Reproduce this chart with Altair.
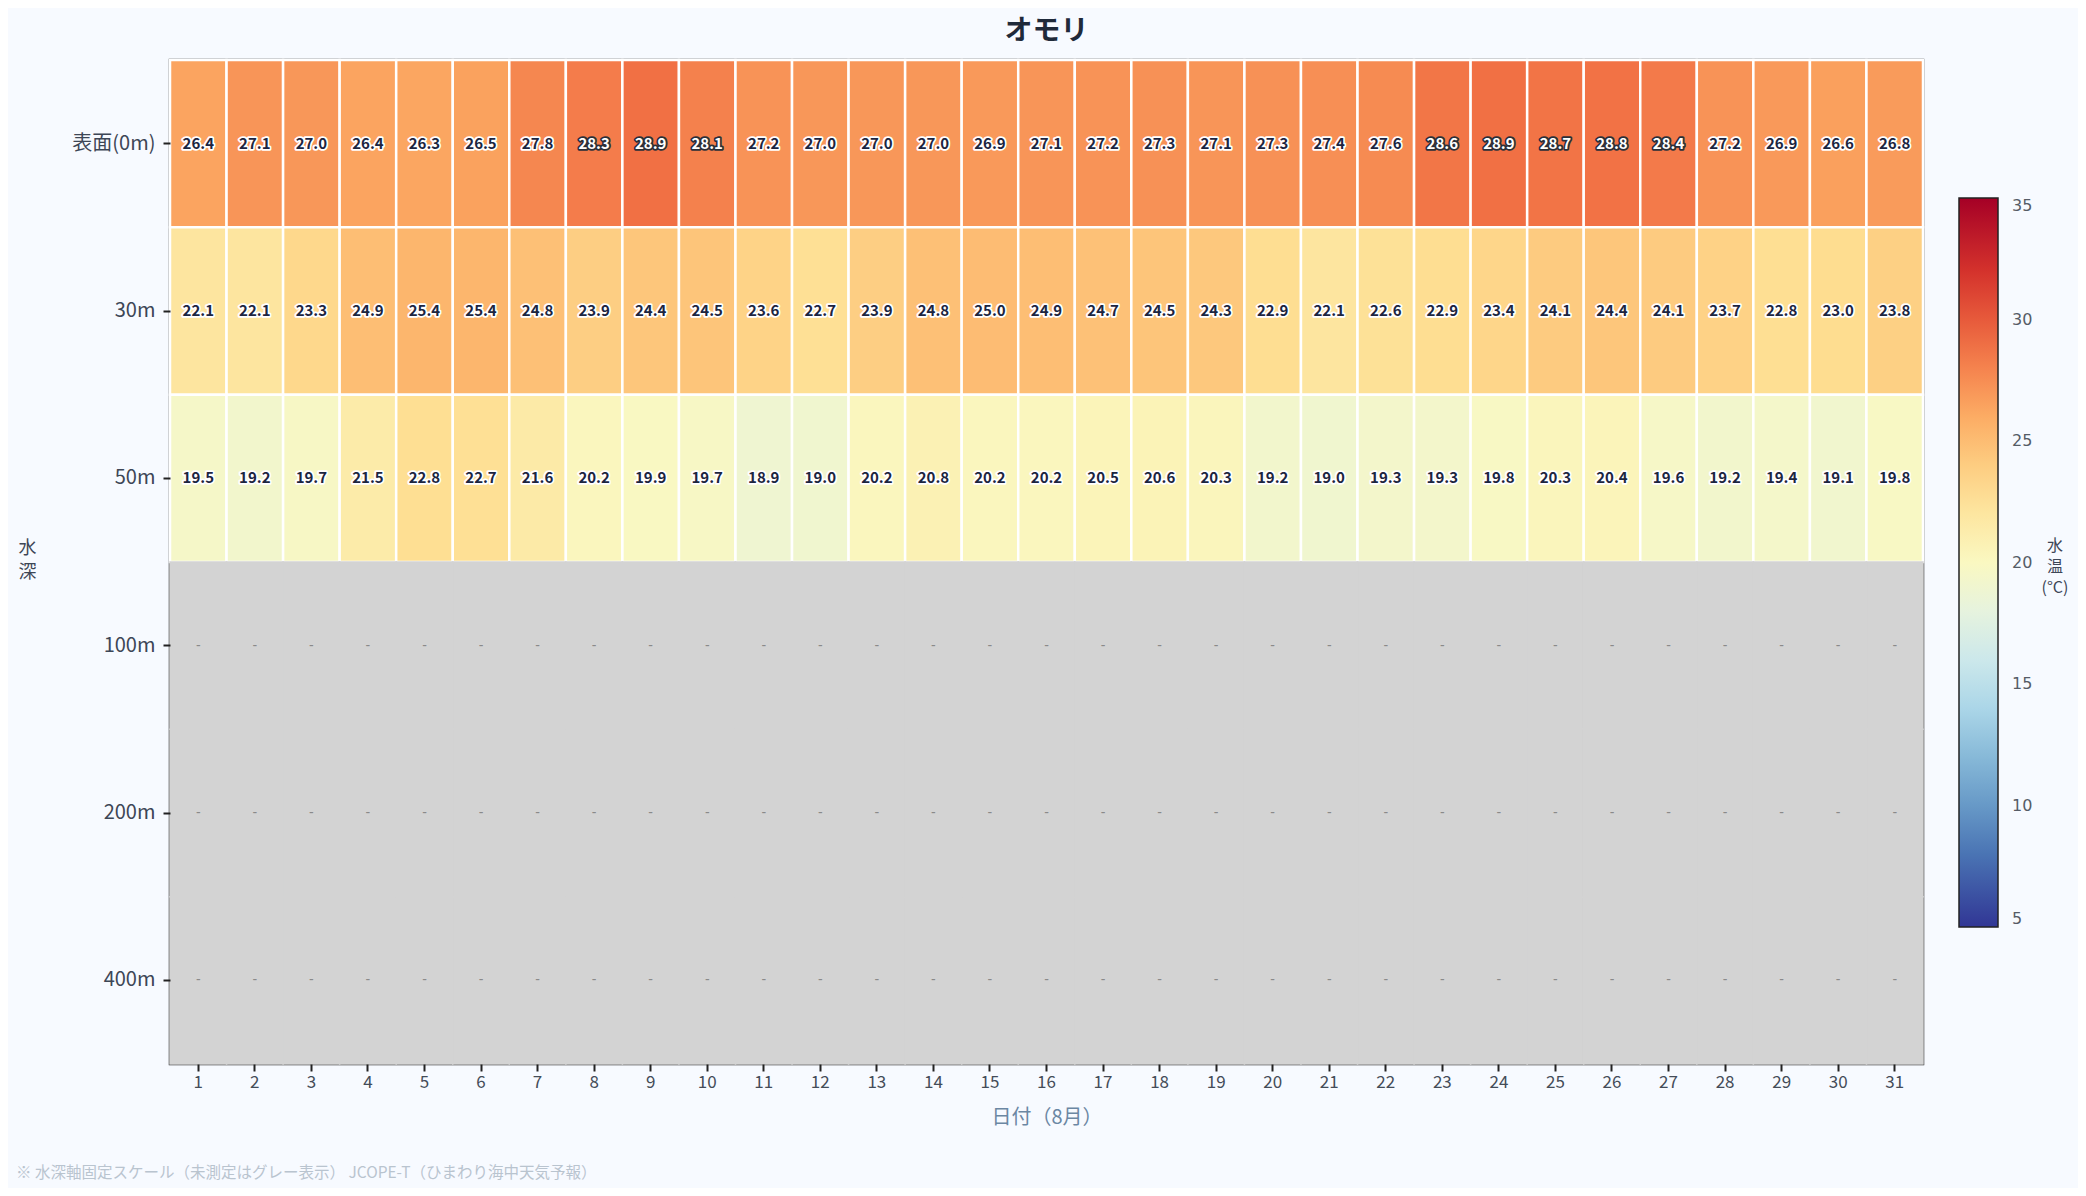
import altair as alt
import pandas as pd

# Data (Omori, August)
days = list(range(1, 32))
depths = ["表面(0m)", "30m", "50m", "100m", "200m", "400m"]
measured_depths = ["表面(0m)", "30m", "50m"]
missing_depths = ["100m", "200m", "400m"]

temp_0m = [26.4, 27.1, 27.0, 26.4, 26.3, 26.5, 27.8, 28.3, 28.9, 28.1, 27.2,
           27.0, 27.0, 27.0, 26.9, 27.1, 27.2, 27.3, 27.1, 27.3, 27.4, 27.6,
           28.6, 28.9, 28.7, 28.8, 28.4, 27.2, 26.9, 26.6, 26.8]
temp_30m = [22.1, 22.1, 23.3, 24.9, 25.4, 25.4, 24.8, 23.9, 24.4, 24.5, 23.6,
            22.7, 23.9, 24.8, 25.0, 24.9, 24.7, 24.5, 24.3, 22.9, 22.1, 22.6,
            22.9, 23.4, 24.1, 24.4, 24.1, 23.7, 22.8, 23.0, 23.8]
temp_50m = [19.5, 19.2, 19.7, 21.5, 22.8, 22.7, 21.6, 20.2, 19.9, 19.7, 18.9,
            19.0, 20.2, 20.8, 20.2, 20.2, 20.5, 20.6, 20.3, 19.2, 19.0, 19.3,
            19.3, 19.8, 20.3, 20.4, 19.6, 19.2, 19.4, 19.1, 19.8]

note = "※ 水深軸固定スケール（未測定はグレー表示） JCOPE-T（ひまわり海中天気予報）"
legend_title = "水\n温\n(°C)"

# long tables
rows = []
for depth, series in zip(measured_depths, [temp_0m, temp_30m, temp_50m]):
    for d, t in zip(days, series):
        rows.append({"day": d, "depth": depth, "temp": t, "label": f"{t:.1f}"})
df = pd.DataFrame(rows)

missing = pd.DataFrame([{"day": d, "depth": dep, "label": "-"}
                        for dep in missing_depths for d in days])

JP = "Noto Sans CJK JP"
DARK = "#1c2540"
GRAY = "#d3d3d3"

x_enc = alt.X("day:O", title="日付（8月）",
              axis=alt.Axis(labelAngle=0, labelFont=JP, labelFontSize=17,
                            labelColor="#444c58", tickColor="#222", tickSize=7,
                            tickWidth=2, domain=False, labelPadding=3,
                            titleFont=JP, titleFontSize=20, titleFontWeight="normal",
                            titleColor="#6b87a3", titlePadding=17))
y_enc = alt.Y("depth:N", sort=depths, scale=alt.Scale(domain=depths),
              title=["水", "深"],
              axis=alt.Axis(labelFont=JP, labelFontSize=20, labelColor="#3d4656",
                            tickColor="#222", tickSize=7, tickWidth=2, domain=False,
                            labelPadding=8, titleAngle=0, titleFont=JP,
                            titleFontSize=18, titleFontWeight="normal",
                            titleColor="#3d4656", titleX=-143, titleY=488,
                            titleAlign="center", titleBaseline="middle",
                            titleLineHeight=24))

base = alt.Chart(df).encode(x=x_enc, y=y_enc)

cells = base.mark_rect(stroke="white", strokeWidth=2.5).encode(
    color=alt.Color("temp:Q",
                    scale=alt.Scale(scheme="redyellowblue", reverse=True, domain=[5, 35]),
                    legend=alt.Legend(title=None, orient="none",
                                      legendX=1789, legendY=138,
                                      gradientLength=729, gradientThickness=39,
                                      gradientStrokeColor="#222", gradientStrokeWidth=1.5,
                                      values=[5, 10, 15, 20, 25, 30, 35],
                                      labelFontSize=16, labelColor="#555c66",
                                      labelFont="DejaVu Sans", labelOffset=14))
)

is_hot = alt.datum.temp >= 28

halo = base.mark_text(font=JP, fontSize=15, fontWeight="bold",
                      strokeWidth=3.5, strokeJoin="round").encode(
    text="label:N",
    stroke=alt.condition(is_hot, alt.value("#2b2f38"), alt.value("white")),
    color=alt.condition(is_hot, alt.value("#2b2f38"), alt.value("white")),
)
labels = base.mark_text(font=JP, fontSize=15, fontWeight="bold").encode(
    text="label:N",
    color=alt.condition(is_hot, alt.value("white"), alt.value(DARK)),
)

gray = alt.Chart(missing).mark_rect(color=GRAY, stroke=GRAY, strokeWidth=1.5).encode(
    x=x_enc, y=y_enc)
dashes = alt.Chart(missing).mark_text(color="#8a8a8a", fontSize=14).encode(
    x=x_enc, y=y_enc, text="label:N")

footnote = alt.Chart(pd.DataFrame({"t": [note]})).mark_text(
    align="left", baseline="middle", font=JP, fontSize=15.5, color="#b9c4cf"
).encode(x=alt.value(-154), y=alt.value(1113), text="t:N")

legend_label = alt.Chart(pd.DataFrame({"t": [legend_title]})).mark_text(
    align="center", baseline="middle", font=JP, fontSize=16, color="#3d4656",
    lineBreak="\n", lineHeight=21
).encode(x=alt.value(1885), y=alt.value(486), text="t:N")

chart = alt.layer(cells, gray, halo, labels, dashes, footnote, legend_label).properties(
    width=1753, height=1004,
    title=alt.TitleParams("オモリ", font=JP, fontSize=28, fontWeight="bold",
                          color="#1f2a3a", anchor="middle", offset=13),
    background="#f7faff",
    autosize=alt.AutoSizeParams(type="none"),
    padding={"left": 162, "top": 52, "right": 155, "bottom": 124},
).configure_view(stroke="#222", strokeWidth=2.5)

chart.save("out.html", embed_options={"renderer": "svg", "actions": False})
